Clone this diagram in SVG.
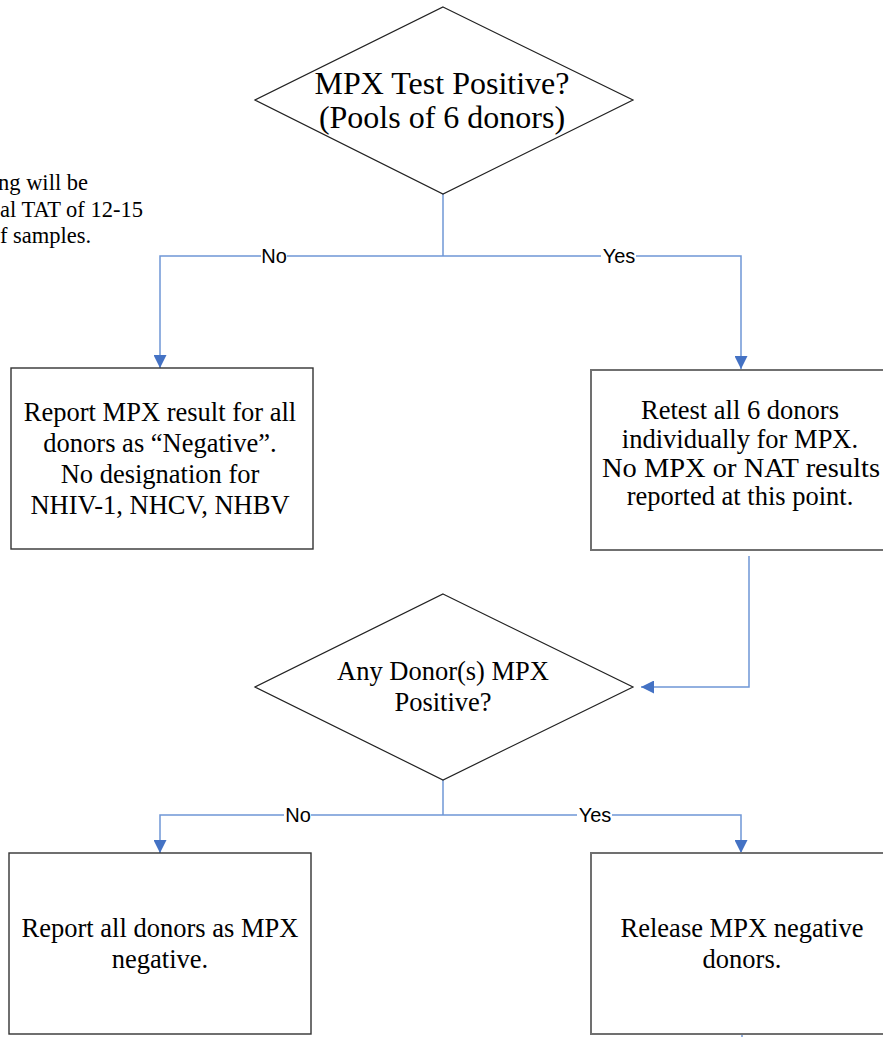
<svg xmlns="http://www.w3.org/2000/svg" width="883" height="1037" viewBox="0 0 883 1037">
<style>
.shape{fill:#fff;stroke:#222;stroke-width:1.2}
.boxl{fill:#fff;stroke:#333;stroke-width:1.4}
.boxr{fill:#fff;stroke:#707070;stroke-width:2}
.t{font-family:"Liberation Serif","Times New Roman",serif;fill:#000;text-anchor:middle;font-size:26.5px}
.side{font-family:"Liberation Serif","Times New Roman",serif;fill:#000;font-size:22.5px}
.conn{fill:none;stroke:#6f97d6;stroke-width:1.5}
.lbl{font-family:"Liberation Sans",Arial,sans-serif;font-size:20px;fill:#000;text-anchor:middle}
.lblbg{fill:#fff}
</style>
<defs>
<marker id="ah" viewBox="0 0 10 10" refX="10" refY="5" markerWidth="13" markerHeight="13" markerUnits="userSpaceOnUse" orient="auto">
<path d="M0,0 L10,5 L0,10 z" fill="#4472c4"/>
</marker>
</defs>
<text class="side" x="-2" y="190">ng will be</text>
<text class="side" x="0" y="217">al TAT of 12-15</text>
<text class="side" x="0" y="243">f samples.</text>
<g id="connectors">
<path class="conn" d="M443,194 V256"/>
<path class="conn" d="M443,256 H160 V368" marker-end="url(#ah)"/>
<path class="conn" d="M443,256 H741 V369" marker-end="url(#ah)"/>
<path class="conn" d="M749,556 V687 H641" marker-end="url(#ah)"/>
<path class="conn" d="M443,780 V815"/>
<path class="conn" d="M443,815 H160 V853" marker-end="url(#ah)"/>
<path class="conn" d="M443,815 H741 V853" marker-end="url(#ah)"/>
<path class="conn" d="M742,1034 V1037"/>
<rect class="lblbg" x="261" y="245" width="26" height="22"/>
<text class="lbl" x="274" y="263">No</text>
<rect class="lblbg" x="601" y="245" width="35" height="22"/>
<text class="lbl" x="619" y="263">Yes</text>
<rect class="lblbg" x="284" y="804" width="27" height="22"/>
<text class="lbl" x="298" y="822">No</text>
<rect class="lblbg" x="577" y="804" width="35" height="22"/>
<text class="lbl" x="595" y="822">Yes</text>
</g>
<g id="d1">
<polygon class="shape" points="443,7 633,100 443,194 255,100"/>
<text class="t" style="font-size:32px" x="442" y="94">MPX Test Positive?</text>
<text class="t" style="font-size:32px" x="442" y="128">(Pools of 6 donors)</text>
</g>
<g id="b1">
<rect class="boxl" x="11" y="368" width="302" height="181"/>
<text class="t" x="160" y="421">Report MPX result for all</text>
<text class="t" x="160" y="452">donors as “Negative”.</text>
<text class="t" x="160" y="483">No designation for</text>
<text class="t" x="160" y="514">NHIV-1, NHCV, NHBV</text>
</g>
<g id="b2">
<rect class="boxr" x="591" y="370" width="300" height="180"/>
<text class="t" x="740" y="419">Retest all 6 donors</text>
<text class="t" x="740" y="448">individually for MPX.</text>
<text class="t" x="741" y="477" textLength="278" lengthAdjust="spacingAndGlyphs">No MPX or NAT  results</text>
<text class="t" x="740" y="505">reported at this point.</text>
</g>
<g id="d2">
<polygon class="shape" points="443,594 633,687 443,780 255,687"/>
<text class="t" x="443" y="680">Any Donor(s) MPX</text>
<text class="t" x="443" y="711">Positive?</text>
</g>
<g id="b3">
<rect class="boxl" x="9" y="853" width="302" height="181"/>
<text class="t" x="160" y="937">Report all donors as MPX</text>
<text class="t" x="160" y="968">negative.</text>
</g>
<g id="b4">
<rect class="boxr" x="591" y="853" width="300" height="181"/>
<text class="t" x="742" y="937">Release MPX negative</text>
<text class="t" x="742" y="968">donors.</text>
</g>
</svg>
